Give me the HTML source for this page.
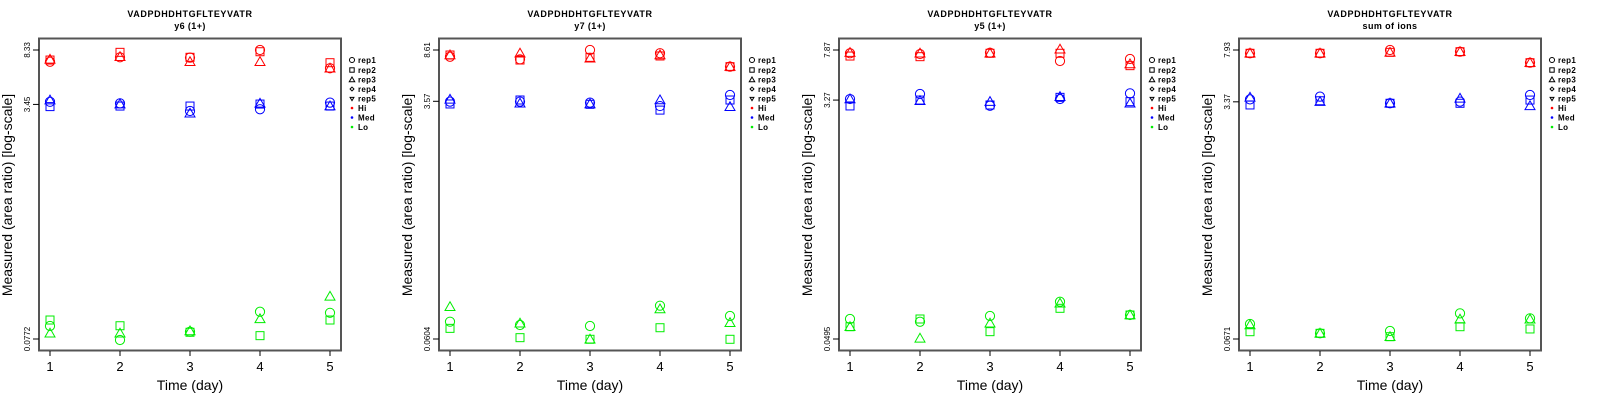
<!DOCTYPE html>
<html><head><meta charset="utf-8">
<style>
html,body{margin:0;padding:0;background:#fff;}
svg{display:block;font-family:"Liberation Sans",sans-serif;}
</style></head>
<body>
<svg id="chart" width="1600" height="400" viewBox="0 0 1600 400" xmlns="http://www.w3.org/2000/svg"></svg>
<script>
const days = [1,2,3,4,5];
const panelTitles = ["y6 (1+)","y7 (1+)","y5 (1+)","sum of ions"];
const peptide = "VADPDHDHTGFLTEYVATR";
const tickLabels = [["8.33","3.45","0.0772"],["8.61","3.57","0.0604"],["7.87","3.27","0.0495"],["7.93","3.37","0.0671"]];
const tickValues = [[8.33,3.45,0.0772],[8.61,3.57,0.0604],[7.87,3.27,0.0495],[7.93,3.37,0.0671]];
const reps = ["rep1","rep2","rep3"];
const groups = ["Hi","Med","Lo"];
const groupColors = ["#ff0000","#0000ff","#00ee00"];
// panel 1
const p1Hi = [[6.89,7.40,7.36,8.33,6.20],[7.08,8.02,7.40,8.10,6.78],[7.16,7.47,6.89,6.89,6.20]];
const p1Med = [[3.60,3.51,3.10,3.19,3.55],[3.33,3.36,3.36,3.47,3.36],[3.70,3.47,2.99,3.51,3.36]];
const p1Lo = [[0.0953,0.0760,0.0869,0.120,0.118],[0.105,0.0957,0.0861,0.0815,0.105],[0.0847,0.0847,0.0879,0.107,0.154]];
// panel 2
const p2Hi = [[7.67,7.34,8.61,8.14,6.47],[7.90,7.25,7.59,7.77,6.47],[7.90,8.14,7.47,7.90,6.47]];
const p2Med = [[3.55,3.55,3.49,3.29,3.98],[3.41,3.65,3.39,3.07,3.65],[3.69,3.45,3.41,3.65,3.25]];
const p2Lo = [[0.0813,0.0768,0.0755,0.107,0.0896],[0.0725,0.0618,0.0601,0.0733,0.0601],[0.105,0.0791,0.0601,0.101,0.0799]];
// panel 3
const p3Hi = [[7.43,7.33,7.51,6.49,6.72],[7.08,7.00,7.43,7.43,5.98],[7.51,7.43,7.43,7.97,6.15]];
const p3Med = [[3.33,3.64,2.96,3.33,3.68],[2.95,3.27,3.00,3.43,3.18],[3.33,3.23,3.18,3.47,3.09]];
const p3Lo = [[0.0703,0.0670,0.0741,0.0952,0.0754],[0.0614,0.0703,0.0563,0.0848,0.0754],[0.0614,0.0501,0.0652,0.0926,0.0754]];
// panel 4
const p4Hi = [[7.51,7.51,7.93,7.71,6.43],[7.51,7.51,7.63,7.71,6.43],[7.51,7.51,7.63,7.71,6.43]];
const p4Med = [[3.51,3.67,3.29,3.38,3.77],[3.20,3.43,3.29,3.29,3.47],[3.63,3.38,3.29,3.57,3.15]];
const p4Lo = [[0.0860,0.0737,0.0766,0.1025,0.0944],[0.0757,0.0737,0.0697,0.0822,0.0792],[0.0846,0.0737,0.0697,0.0929,0.0929]];
const panelData = [[p1Hi,p1Med,p1Lo],[p2Hi,p2Med,p2Lo],[p3Hi,p3Med,p3Lo],[p4Hi,p4Med,p4Lo]];

const NS="http://www.w3.org/2000/svg";
const svg=document.getElementById('chart');
function mk(tag,attrs,parent){const e=document.createElementNS(NS,tag);for(const k in attrs)e.setAttribute(k,attrs[k]);(parent||svg).appendChild(e);return e;}
function marker(g,shape,cx,cy,col,sc){
  sc=sc||1;let e;
  if(shape===0){e=mk('circle',{cx:cx,cy:cy,r:4.6*sc,fill:'none',stroke:col,'stroke-width':1},g);}
  else if(shape===1){const s=4*sc;e=mk('rect',{x:cx-s,y:cy-s,width:2*s,height:2*s,fill:'none',stroke:col,'stroke-width':1},g);}
  else if(shape===2){const s=5*sc;e=mk('polygon',{points:`${cx},${cy-s} ${cx+s},${cy+s*0.75} ${cx-s},${cy+s*0.75}`,fill:'none',stroke:col,'stroke-width':1},g);}
  else if(shape===3){const s=3.5*sc;e=mk('polygon',{points:`${cx},${cy-s} ${cx+s},${cy} ${cx},${cy+s} ${cx-s},${cy}`,fill:'none',stroke:col,'stroke-width':1},g);}
  else if(shape===4){const s=3.5*sc;e=mk('polygon',{points:`${cx-s},${cy-s*0.7} ${cx+s},${cy-s*0.7} ${cx},${cy+s}`,fill:'none',stroke:col,'stroke-width':1},g);}
  else {e=mk('circle',{cx:cx,cy:cy,r:1.3,fill:col},g);}
  return e;
}
for(let p=0;p<4;p++){
  const ox=p*400;
  const g=mk('g',{transform:`translate(${ox},0)`});
  
  
  const top=tickValues[p][0], bot=tickValues[p][2];
  const yTop=50,yBot=339;
  const ys=v=>yTop+(Math.log(top)-Math.log(v))/(Math.log(top)-Math.log(bot))*(yBot-yTop);
  const xs=d=>50+(d-1)*70;
  let t=mk('text',{x:190,y:17,'text-anchor':'middle','font-size':9,'font-weight':'bold','letter-spacing':'0.6'},g);t.textContent=peptide;
  
  t=mk('text',{x:190,y:29,'text-anchor':'middle','font-size':9,'font-weight':'bold','letter-spacing':'0.4'},g);t.textContent=panelTitles[p];
  
  const box=mk('rect',{x:39,y:38.5,width:302,height:312,fill:'none',stroke:'#555','stroke-width':2},g);
  
  // y ticks
  for(let i=0;i<3;i++){
    const y=ys(tickValues[p][i]);
    mk('line',{x1:33,x2:39,y1:y,y2:y,stroke:'#000','stroke-width':1},g);
    const tl=mk('text',{x:0,y:0,transform:`translate(30,${y}) rotate(-90)`,'text-anchor':'middle','font-size':8},g);
    tl.textContent=tickLabels[p][i];
    
  }
  // x ticks
  days.forEach(d=>{
    mk('line',{x1:xs(d),x2:xs(d),y1:351,y2:356,stroke:'#000','stroke-width':1},g);
    const xl=mk('text',{x:xs(d),y:371,'text-anchor':'middle','font-size':13},g);xl.textContent=d;
    
  });
  t=mk('text',{x:190,y:390,'text-anchor':'middle','font-size':14},g);t.textContent='Time (day)';
  
  t=mk('text',{x:0,y:0,transform:'translate(12,195) rotate(-90)','text-anchor':'middle','font-size':14},g);t.textContent='Measured (area ratio) [log-scale]';
  
  // points
  for(let gi=0;gi<3;gi++){
    for(let r=0;r<3;r++){
      panelData[p][gi][r].forEach((v,di)=>{
        const m=marker(g,r,xs(days[di]),ys(v),groupColors[gi]);
        
        
      });
    }
  }
  // legend
  const leg=mk('g',{},g);
  
  const labels=['rep1','rep2','rep3','rep4','rep5','Hi','Med','Lo'];
  const rowsY=[60,70,79.7,89,98.7,108,117.5,127];
  labels.forEach((lb,i)=>{
    const y=rowsY[i];
    let col='#000',shape=i;
    if(i>=5){col=groupColors[i-5];shape=5;}
    marker(leg,shape,352,y,col,0.55);
    const lt=mk('text',{x:358,y:y+3,'font-size':8,'font-weight':'bold','letter-spacing':'0.3'},leg);
    lt.textContent=lb;
    
  });
}
</script>
</body></html>
